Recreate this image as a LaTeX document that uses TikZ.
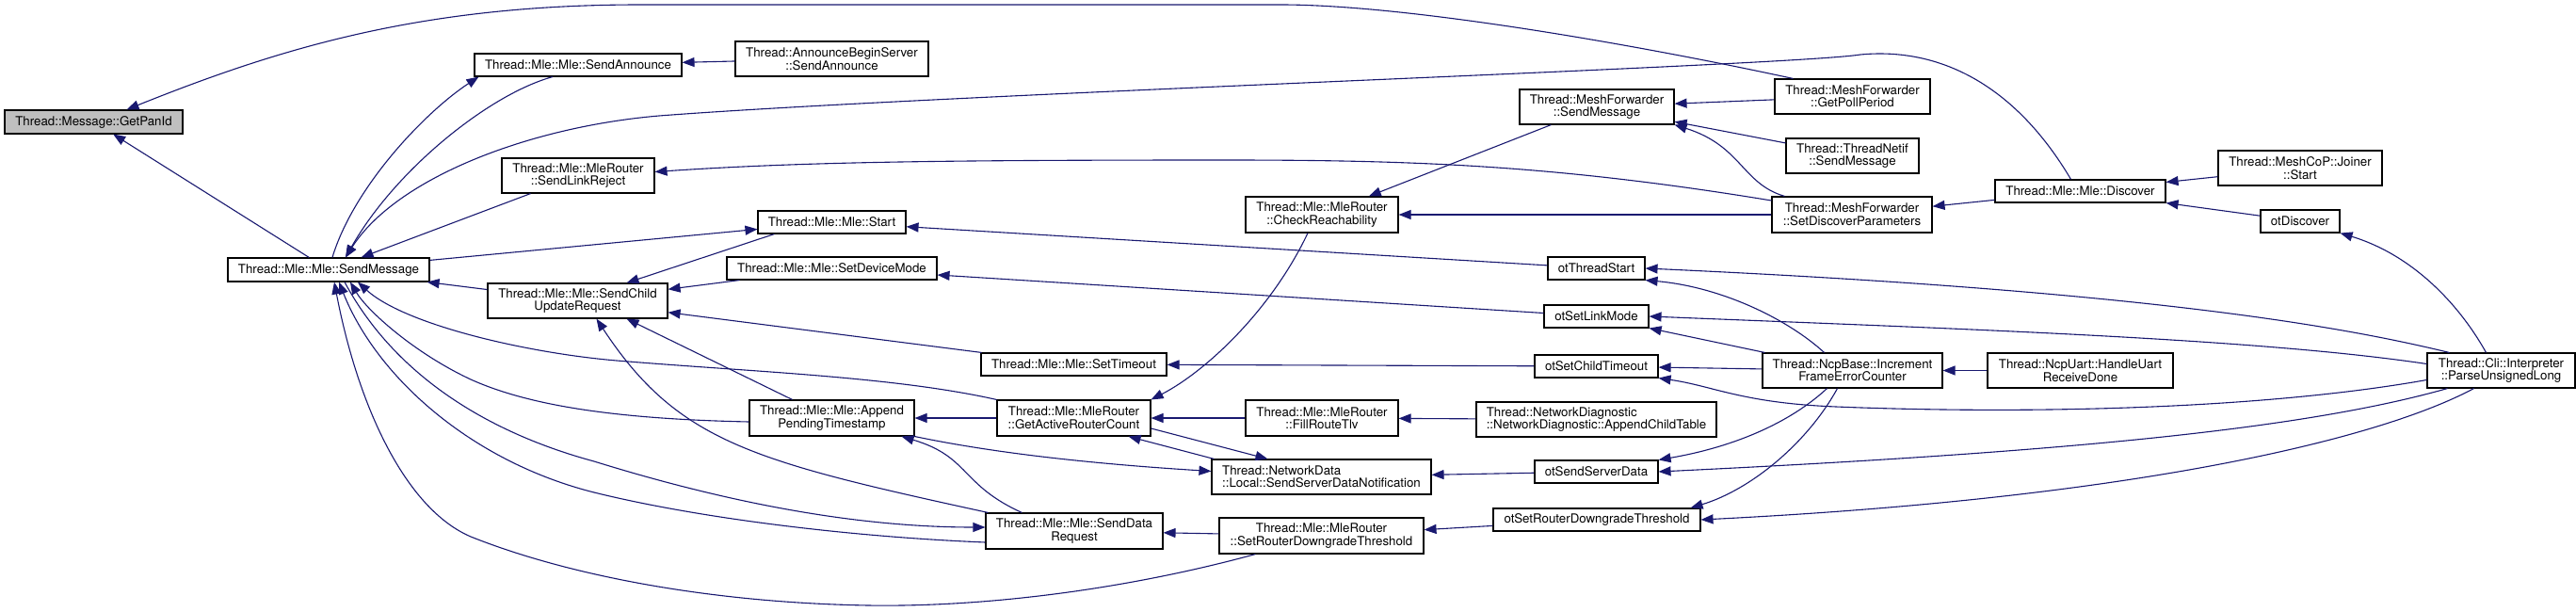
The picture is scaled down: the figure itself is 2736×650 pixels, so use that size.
\documentclass[tikz,border=0pt]{standalone}
\usepackage{fontspec}
\setmainfont{TeX Gyre Heros}
\usetikzlibrary{arrows.meta}
\definecolor{edgeblue}{HTML}{191970}
\definecolor{pangray}{HTML}{BFBFBF}

\begin{document}
\begin{tikzpicture}[x=1pt, y=-1pt, >={Triangle[length=13pt, width=10pt]},
    box/.style={draw=black, line width=1.1pt, fill=white, rectangle, inner sep=0pt,
        minimum height=24pt, align=center, font=\fontsize{13.3}{13.5}\selectfont},
    box2/.style={box, minimum height=37pt},
    edge/.style={->, draw=edgeblue, line width=1.1pt}]
    \useasboundingbox (0,0) rectangle (2736,650);

    % Boxes of the call graph
    \node[box, fill=pangray, minimum width=189pt, minimum height=25pt] (pan) at (99.5,129.5) {Thread::Message::GetPanId};
    \node[box, minimum width=214pt, minimum height=25pt] (sm) at (349,286.5) {Thread::Mle::Mle::SendMessage};
    \node[box, minimum width=220pt] (sa) at (614,69) {Thread::Mle::Mle::SendAnnounce};
    \node[box2, minimum width=162pt] (slr) at (614,186.5) {Thread::Mle::MleRouter\\::SendLinkReject};
    \node[box2, minimum width=191pt] (scur) at (613.5,319.5) {Thread::Mle::Mle::SendChild\\UpdateRequest};
    \node[box2, minimum width=205pt] (abs) at (883.5,62.5) {Thread::AnnounceBeginServer\\::SendAnnounce};
    \node[box, minimum width=157pt] (start) at (883.5,236) {Thread::Mle::Mle::Start};
    \node[box, minimum width=223pt] (sdm) at (883.5,285) {Thread::Mle::Mle::SetDeviceMode};
    \node[box2, minimum width=175pt, minimum height=38pt] (apt) at (883.5,444) {Thread::Mle::Mle::Append\\PendingTimestamp};
    \node[box, minimum width=197pt] (stmo) at (1140.5,387) {Thread::Mle::Mle::SetTimeout};
    \node[box2, minimum width=163pt, minimum height=38pt] (garc) at (1140.5,444) {Thread::Mle::MleRouter\\::GetActiveRouterCount};
    \node[box2, minimum width=188pt, minimum height=38pt] (sdr) at (1141,564) {Thread::Mle::Mle::SendData\\Request};
    \node[box2, minimum width=162pt, minimum height=38pt] (cr) at (1404,228) {Thread::Mle::MleRouter\\::CheckReachability};
    \node[box2, minimum width=162pt, minimum height=38pt] (frt) at (1404,444) {Thread::Mle::MleRouter\\::FillRouteTlv};
    \node[box2, minimum width=233pt, align=left] (nd) at (1403.5,506.5) {Thread::NetworkData\\::Local::SendServerDataNotification};
    \node[box2, minimum width=217pt, minimum height=38pt] (srdt) at (1403.5,569) {Thread::Mle::MleRouter\\::SetRouterDowngradeThreshold};
    \node[box2, minimum width=164pt] (mfsm) at (1696,113.5) {Thread::MeshForwarder\\::SendMessage};
    \node[box, minimum width=103pt] (ots) at (1695.5,285) {otThreadStart};
    \node[box, minimum width=111pt] (oslm) at (1695.5,336) {otSetLinkMode};
    \node[box, minimum width=131pt] (osct) at (1695.5,389) {otSetChildTimeout};
    \node[box2, minimum width=255pt, align=left] (act) at (1695.5,445.5) {Thread::NetworkDiagnostic\\::NetworkDiagnostic::AppendChildTable};
    \node[box, minimum width=131pt] (ossd) at (1695.5,501) {otSendServerData};
    \node[box, minimum width=220pt] (osrdt) at (1696,552) {otSetRouterDowngradeThreshold};
    \node[box2, minimum width=165pt] (gpp) at (1967.5,102.5) {Thread::MeshForwarder\\::GetPollPeriod};
    \node[box2, minimum width=141pt] (tnsm) at (1967.5,165.5) {Thread::ThreadNetif\\::SendMessage};
    \node[box2, minimum width=170pt, minimum height=38pt] (sdp) at (1967,228) {Thread::MeshForwarder\\::SetDiscoverParameters};
    \node[box2, minimum width=191pt] (ncp) at (1967.5,393.5) {Thread::NcpBase::Increment\\FrameErrorCounter};
    \node[box, minimum width=181pt] (disc) at (2209.5,203) {Thread::Mle::Mle::Discover};
    \node[box2, minimum width=197pt] (hurd) at (2209.5,393.5) {Thread::NcpUart::HandleUart\\ReceiveDone};
    \node[box2, minimum width=174pt] (js) at (2443,178.5) {Thread::MeshCoP::Joiner\\::Start};
    \node[box, minimum width=84pt] (otd) at (2443,235) {otDiscover};
    \node[box2, minimum width=157pt] (pul) at (2656.5,393.5) {Thread::Cli::Interpreter\\::ParseUnsignedLong};

    % Calls into GetPanId and SendMessage
    \draw[edge] (sm) -- (pan);
    \draw[edge] ([xshift=20pt]gpp.north west) .. controls (1750,50) and (1500,5) .. (1360,5) -- (680,5) .. controls (450,5) and (300,50) .. ([xshift=35pt]pan.north);
    \draw[edge] ([xshift=4pt]sm.north) .. controls (375,200) and (450,120) .. ([xshift=5pt]sa.south west);
    \draw[edge] ([xshift=-27pt]sa.south) .. controls (520,100) and (420,180) .. ([xshift=18pt]sm.north);
    \draw[edge] ([xshift=-10pt]disc.north) .. controls (2140,90) and (2060,50) .. (1976,58) .. controls (1900,70) and (1000,100) .. (700,123) .. controls (560,135) and (420,190) .. ([xshift=18pt]sm.north);
    \draw[edge] (slr) -- (sm);
    \draw[edge] (sm) -- (start);
    \draw[edge] (scur) -- (sm);
    \draw[edge] (garc.north west) .. controls (950,400) and (800,395) .. (655,383) .. controls (560,375) and (430,345) .. ([xshift=31pt]sm.south);
    \draw[edge] ([yshift=-4pt]apt.west) .. controls (650,445) and (560,430) .. (500,403) .. controls (440,375) and (390,330) .. ([xshift=23pt]sm.south);
    \draw[edge] ([xshift=17pt]sm.south) .. controls (420,400) and (520,460) .. (631,490) .. controls (760,530) and (900,560) .. ([yshift=4pt]sdr.west);
    \draw[edge] ([yshift=-12pt]sdr.west) .. controls (900,570) and (740,550) .. (631,523) .. controls (500,490) and (400,400) .. ([xshift=11pt]sm.south);
    \draw[edge] ([xshift=39pt]srdt.south west) .. controls (1200,625) and (1050,645) .. (922,643) .. controls (750,640) and (600,610) .. (500,570) .. controls (430,540) and (380,430) .. ([xshift=6pt]sm.south);

    % Calls into SendChildUpdateRequest
    \draw[edge] ([xshift=18pt]start.south west) -- ([xshift=52pt]scur.north);
    \draw[edge] (sdm) -- (scur);
    \draw[edge] (stmo) -- (scur);
    \draw[edge] ([xshift=-42pt]apt.north) -- ([xshift=52pt]scur.south);
    \draw[edge] ([xshift=3pt]sdr.north west) .. controls (800,490) and (720,470) .. ([xshift=20pt]scur.south);

    % Middle part
    \draw[edge] (abs) -- (sa);
    \draw[edge] ([yshift=15pt]sdp.west) .. controls (1650,175) and (1500,170) .. (1300,170) .. controls (1000,170) and (850,172) .. ([yshift=4pt]slr.east);
    \draw[edge] ([xshift=39pt]sdr.north west) .. controls (1020,515) and (1030,485) .. ([xshift=-14pt]apt.south east);
    \draw[edge] (apt.south east) .. controls (1050,480) and (1150,492) .. ([yshift=6pt]nd.west);
    \draw[edge] (garc) -- (apt);
    \draw[edge] ([yshift=-11pt]garc.east) -- ([xshift=60pt]nd.north west);
    \draw[edge] ([xshift=3pt]nd.north west) -- ([xshift=-24pt]garc.south east);
    \draw[edge] ([xshift=-15pt]cr.south) .. controls (1350,330) and (1280,395) .. (garc.north east);
    \draw[edge] (frt) -- (garc);
    \draw[edge] (srdt) -- (sdr);
    \draw[edge] (mfsm) -- (cr);
    \draw[edge] (sdp) -- (cr);
    \draw[edge] ([xshift=14pt]sdp.north west) .. controls (1850,195) and (1850,155) .. (mfsm.south east);
    \draw[edge] (tnsm) -- (mfsm);
    \draw[edge] (gpp) -- (mfsm);
    \draw[edge] (ots) -- (start);
    \draw[edge] (oslm) -- (sdm);
    \draw[edge] (osct) -- (stmo);
    \draw[edge] (act) -- (frt);
    \draw[edge] (ossd) -- (nd);
    \draw[edge] (osrdt) -- (srdt);

    % Right part
    \draw[edge] (disc) -- (sdp);
    \draw[edge] (js) -- (disc);
    \draw[edge] (otd) -- (disc.south east);
    \draw[edge] (hurd) -- (ncp);
    \draw[edge] ([xshift=-16pt]pul.north) .. controls (2610,320) and (2560,270) .. (otd.south east);
    \draw[edge] ([xshift=24pt]pul.north west) .. controls (2500,350) and (2300,310) .. (ots.east);
    \draw[edge] ([xshift=-30pt]ncp.north) .. controls (1900,340) and (1830,305) .. (ots.south east);
    \draw[edge] ([yshift=7pt]pul.west) .. controls (2400,360) and (2100,350) .. (oslm.east);
    \draw[edge] ([xshift=3pt]ncp.north west) -- (oslm.south east);
    \draw[edge] (ncp) -- (osct);
    \draw[edge] ([yshift=-10pt]pul.west) .. controls (2400,435) and (2150,440) .. (1950,432) .. controls (1850,428) and (1820,410) .. (osct.south east);
    \draw[edge] ([xshift=-27pt]ncp.south) .. controls (1900,450) and (1840,475) .. (ossd.north east);
    \draw[edge] ([xshift=22pt]pul.south west) .. controls (2450,455) and (2200,480) .. (ossd.east);
    \draw[edge] ([xshift=-16pt]ncp.south) .. controls (1920,470) and (1860,520) .. ([xshift=-11pt]osrdt.north east);
    \draw[edge] ([xshift=-29pt]pul.south) .. controls (2520,470) and (2250,530) .. (osrdt.east);
\end{tikzpicture}
\end{document}
